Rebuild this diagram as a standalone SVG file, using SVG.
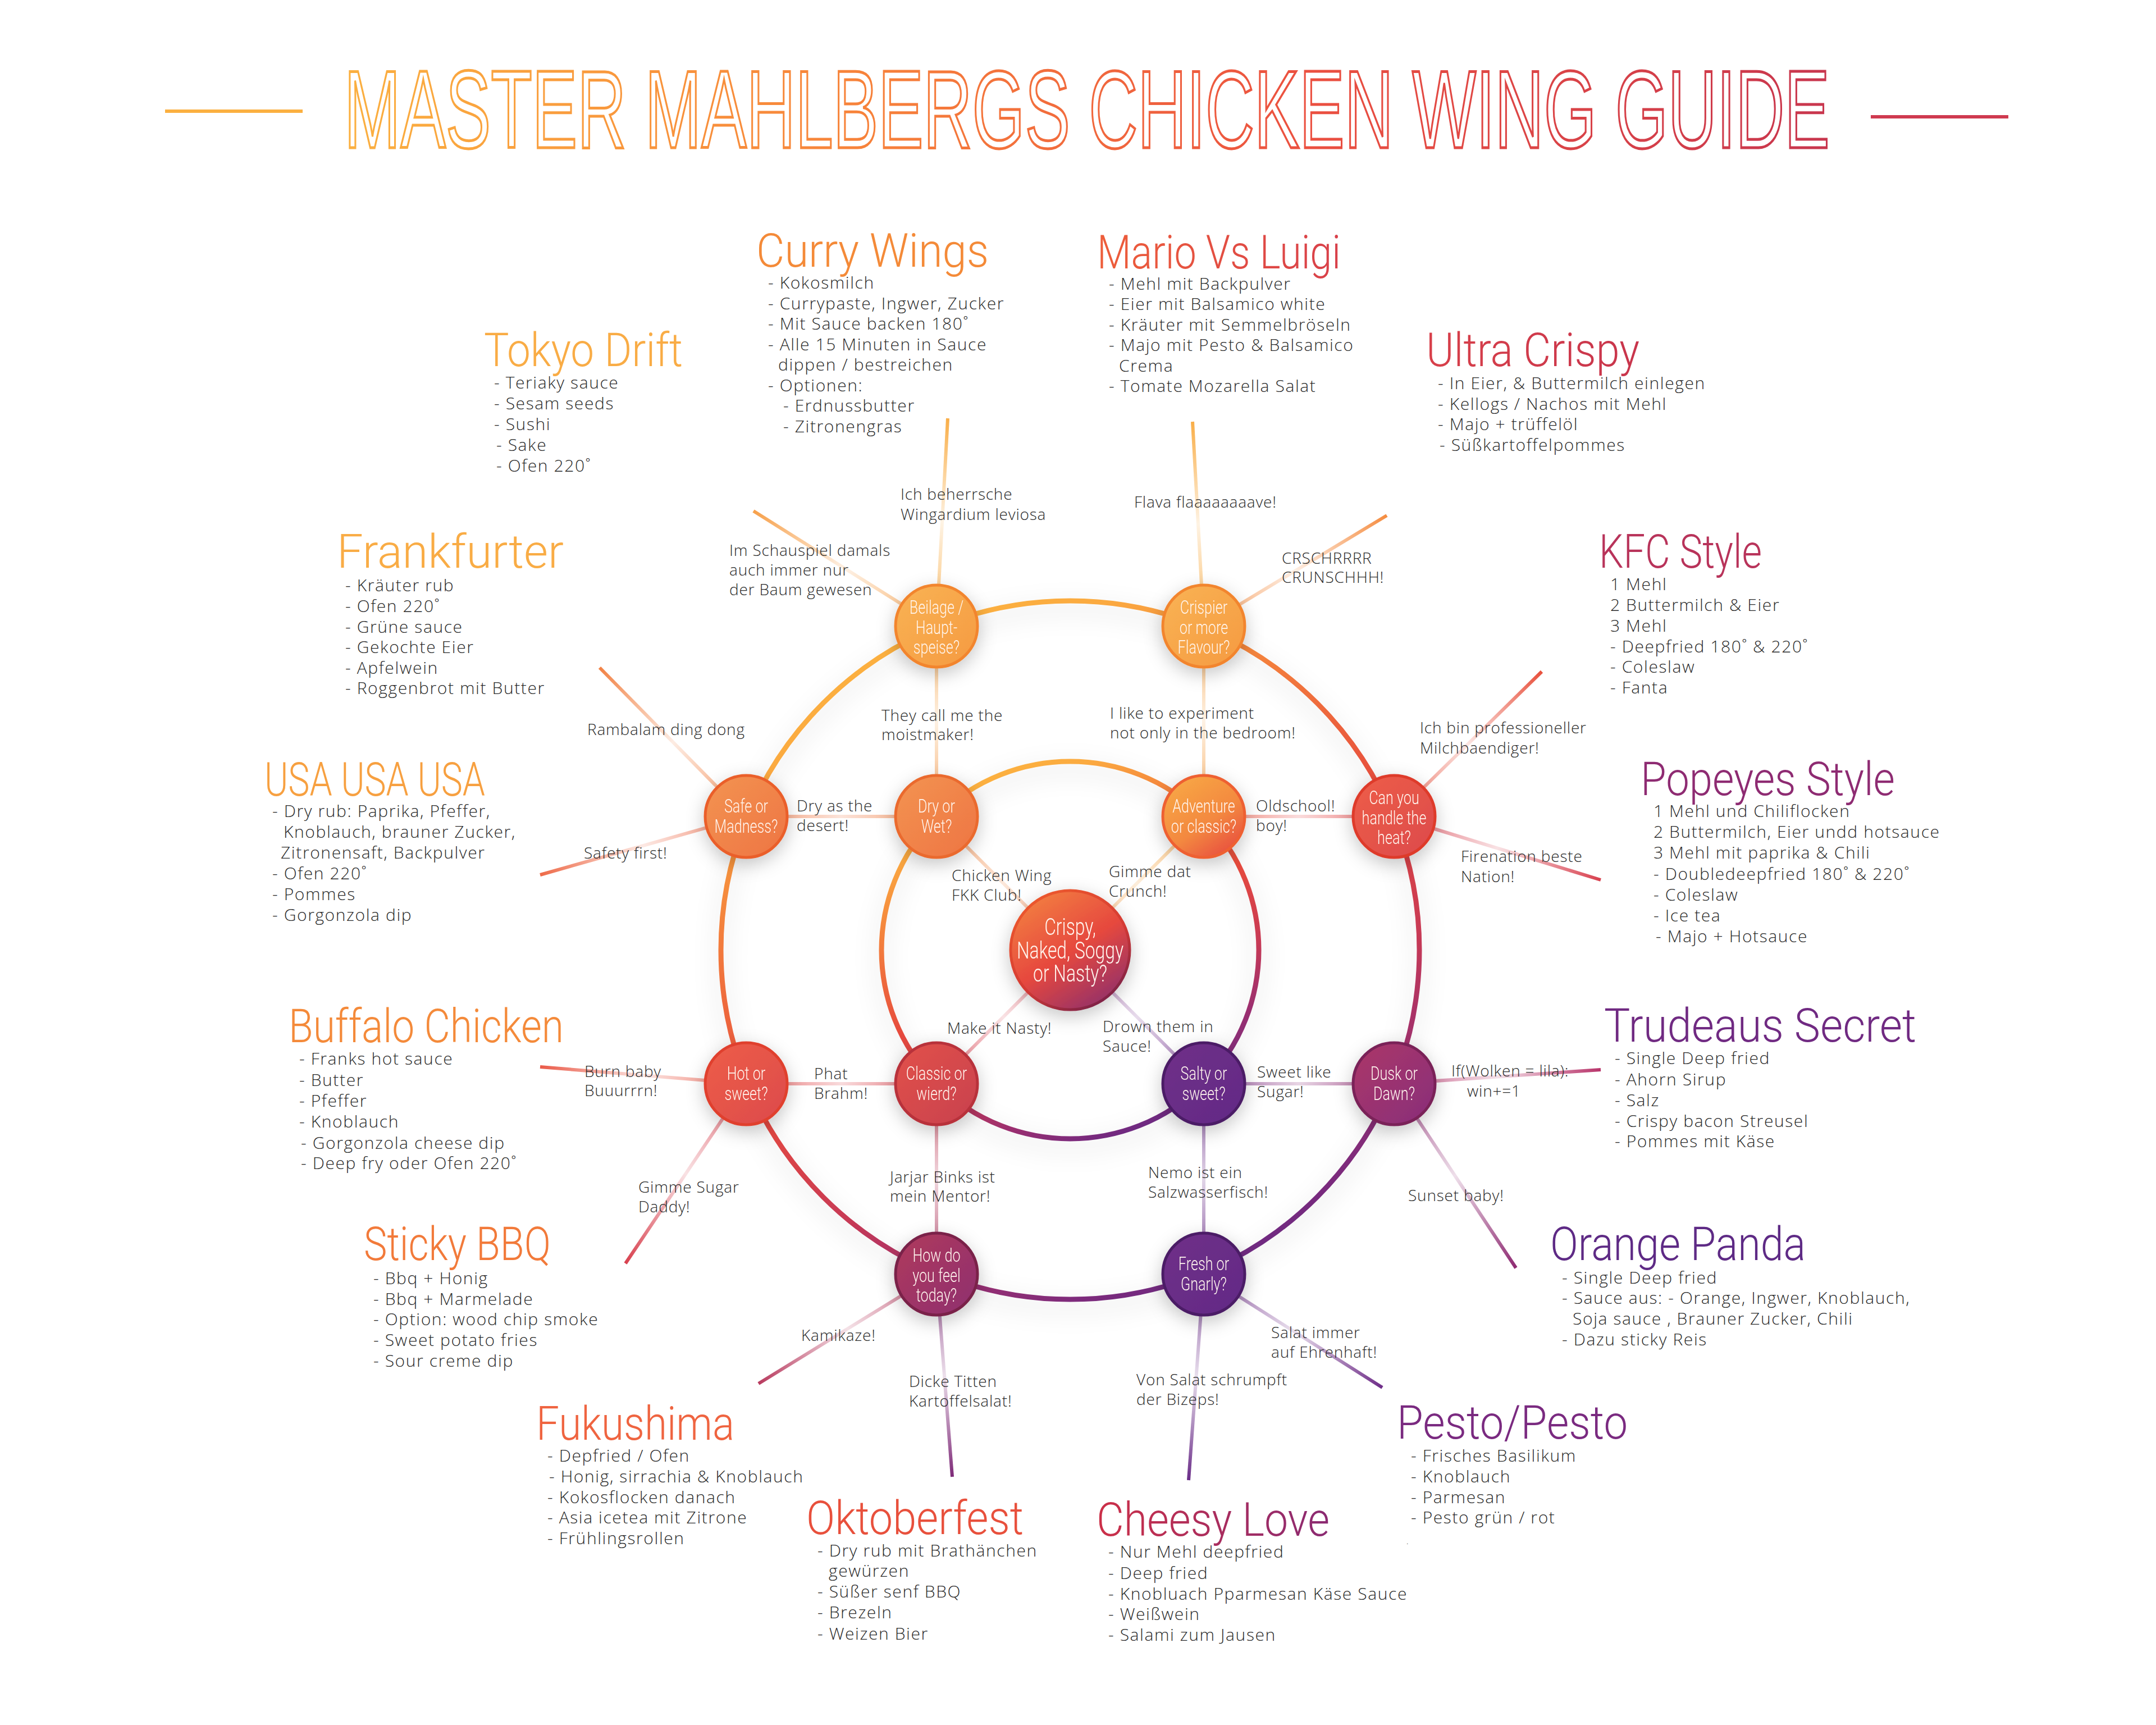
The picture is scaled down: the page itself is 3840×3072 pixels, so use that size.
<svg xmlns="http://www.w3.org/2000/svg" width="3840" height="3072" viewBox="0 0 3840 3072">
<style>
.nl{font-family:Roboto,"Liberation Sans",sans-serif;font-weight:300;font-size:34px;fill:#fff5ee;text-anchor:middle}
.tt{font-family:Roboto,"Liberation Sans",sans-serif;font-weight:300;font-size:84px}
.li{font-family:"Open Sans",Lato,"Liberation Sans",sans-serif;font-weight:300;font-size:30px;fill:#2b2b2b;letter-spacing:1.6px}
.lb{font-family:"Open Sans",Lato,"Liberation Sans",sans-serif;font-weight:300;font-size:28px;fill:#2b2b2b;letter-spacing:0.8px}
.con line{stroke-width:6;stroke-linecap:butt;fill:none}
.ring{fill:none;stroke-width:9}
.node circle{stroke-width:5}
</style>
<defs>
<filter id="sh" x="-40%" y="-40%" width="180%" height="180%"><feDropShadow dx="0" dy="10" stdDeviation="16" flood-color="#000" flood-opacity="0.22"/></filter>
<filter id="shr" x="-20%" y="-20%" width="140%" height="140%"><feDropShadow dx="0" dy="14" stdDeviation="22" flood-color="#000" flood-opacity="0.16"/></filter>
<linearGradient id="gTitle" x1="0" y1="0" x2="1" y2="0"><stop offset="0" stop-color="#FBB040"/><stop offset="0.35" stop-color="#F7823A"/><stop offset="0.65" stop-color="#EB5040"/><stop offset="1" stop-color="#C8364E"/></linearGradient>
<linearGradient id="gRing" x1="0.25" y1="0" x2="0.75" y2="1"><stop offset="0" stop-color="#FCB441"/><stop offset="0.12" stop-color="#FBAA40"/><stop offset="0.3" stop-color="#F27A3C"/><stop offset="0.5" stop-color="#E64A3E"/><stop offset="0.68" stop-color="#C83A55"/><stop offset="0.82" stop-color="#9A2E70"/><stop offset="1" stop-color="#5E2A88"/></linearGradient>
<linearGradient id="gY" x1="0" y1="0" x2="1" y2="1"><stop offset="0" stop-color="#F9B355"/><stop offset="1" stop-color="#F59A40"/></linearGradient>
<linearGradient id="gO" x1="0" y1="0" x2="1" y2="1"><stop offset="0" stop-color="#F39452"/><stop offset="1" stop-color="#EE7442"/></linearGradient>
<linearGradient id="gAdv" x1="0.2" y1="0" x2="0.9" y2="1"><stop offset="0" stop-color="#F8A845"/><stop offset="0.55" stop-color="#F38840"/><stop offset="1" stop-color="#E6453E"/></linearGradient>
<linearGradient id="gR" x1="0" y1="0" x2="1" y2="1"><stop offset="0" stop-color="#EE5E48"/><stop offset="1" stop-color="#DC4A4C"/></linearGradient>
<linearGradient id="gCl" x1="0" y1="0" x2="1" y2="1"><stop offset="0" stop-color="#E2524A"/><stop offset="1" stop-color="#C8404F"/></linearGradient>
<linearGradient id="gCtr" x1="0.2" y1="0" x2="0.85" y2="1"><stop offset="0" stop-color="#F38042"/><stop offset="0.5" stop-color="#E6483E"/><stop offset="1" stop-color="#8A2E6E"/></linearGradient>
<linearGradient id="gCtrS" x1="0.2" y1="0" x2="0.85" y2="1"><stop offset="0" stop-color="#EE5A2C"/><stop offset="0.55" stop-color="#D43A34"/><stop offset="1" stop-color="#6E1E4A"/></linearGradient>
<linearGradient id="gP" x1="0" y1="0" x2="1" y2="1"><stop offset="0" stop-color="#703088"/><stop offset="1" stop-color="#622A86"/></linearGradient>
<linearGradient id="gDusk" x1="0" y1="0" x2="1" y2="1"><stop offset="0" stop-color="#AC3868"/><stop offset="1" stop-color="#882D7A"/></linearGradient>
<linearGradient id="gHow" x1="0" y1="0" x2="1" y2="1"><stop offset="0" stop-color="#B03A5C"/><stop offset="1" stop-color="#8E2F70"/></linearGradient>
<linearGradient id="gMario" x1="0" y1="0" x2="1" y2="0"><stop offset="0" stop-color="#EE5E3A"/><stop offset="1" stop-color="#D8404A"/></linearGradient>
<linearGradient id="gUltra" x1="0" y1="0" x2="1" y2="0"><stop offset="0" stop-color="#D8404A"/><stop offset="1" stop-color="#C8354C"/></linearGradient>
<linearGradient id="gCheesy" x1="0" y1="0" x2="1" y2="0"><stop offset="0" stop-color="#CC3048"/><stop offset="1" stop-color="#8A2A72"/></linearGradient>
<linearGradient id="s1" gradientUnits="userSpaceOnUse" x1="1668" y1="1115" x2="1688" y2="745"><stop offset="0" stop-color="#F9AE48" stop-opacity="0.8"/><stop offset="0.5" stop-color="#F9AE48" stop-opacity="0.15"/><stop offset="1" stop-color="#F9AE48"/></linearGradient>
<linearGradient id="s2" gradientUnits="userSpaceOnUse" x1="1668" y1="1115" x2="1342" y2="910"><stop offset="0" stop-color="#F7A04A" stop-opacity="0.8"/><stop offset="0.5" stop-color="#F7A04A" stop-opacity="0.15"/><stop offset="1" stop-color="#F7A04A"/></linearGradient>
<linearGradient id="s3" gradientUnits="userSpaceOnUse" x1="2144" y1="1115" x2="2124" y2="751"><stop offset="0" stop-color="#F9AE48" stop-opacity="0.8"/><stop offset="0.5" stop-color="#F9AE48" stop-opacity="0.15"/><stop offset="1" stop-color="#F9AE48"/></linearGradient>
<linearGradient id="s4" gradientUnits="userSpaceOnUse" x1="2144" y1="1115" x2="2470" y2="918"><stop offset="0" stop-color="#F58C40" stop-opacity="0.8"/><stop offset="0.5" stop-color="#F58C40" stop-opacity="0.15"/><stop offset="1" stop-color="#F58C40"/></linearGradient>
<linearGradient id="s5" gradientUnits="userSpaceOnUse" x1="1329" y1="1454" x2="1068" y2="1189"><stop offset="0" stop-color="#F28245" stop-opacity="0.8"/><stop offset="0.5" stop-color="#F28245" stop-opacity="0.15"/><stop offset="1" stop-color="#F28245"/></linearGradient>
<linearGradient id="s6" gradientUnits="userSpaceOnUse" x1="1329" y1="1454" x2="962" y2="1558"><stop offset="0" stop-color="#EE6A48" stop-opacity="0.8"/><stop offset="0.5" stop-color="#EE6A48" stop-opacity="0.15"/><stop offset="1" stop-color="#EE6A48"/></linearGradient>
<linearGradient id="s7" gradientUnits="userSpaceOnUse" x1="2483" y1="1454" x2="2746" y2="1196"><stop offset="0" stop-color="#E8503C" stop-opacity="0.8"/><stop offset="0.5" stop-color="#E8503C" stop-opacity="0.15"/><stop offset="1" stop-color="#E8503C"/></linearGradient>
<linearGradient id="s8" gradientUnits="userSpaceOnUse" x1="2483" y1="1454" x2="2851" y2="1567"><stop offset="0" stop-color="#D8404E" stop-opacity="0.8"/><stop offset="0.5" stop-color="#D8404E" stop-opacity="0.15"/><stop offset="1" stop-color="#D8404E"/></linearGradient>
<linearGradient id="s9" gradientUnits="userSpaceOnUse" x1="1329" y1="1930" x2="962" y2="1900"><stop offset="0" stop-color="#EA5A48" stop-opacity="0.8"/><stop offset="0.5" stop-color="#EA5A48" stop-opacity="0.15"/><stop offset="1" stop-color="#EA5A48"/></linearGradient>
<linearGradient id="s10" gradientUnits="userSpaceOnUse" x1="1329" y1="1930" x2="1114" y2="2250"><stop offset="0" stop-color="#D8404E" stop-opacity="0.8"/><stop offset="0.5" stop-color="#D8404E" stop-opacity="0.15"/><stop offset="1" stop-color="#D8404E"/></linearGradient>
<linearGradient id="s11" gradientUnits="userSpaceOnUse" x1="2483" y1="1930" x2="2851" y2="1905"><stop offset="0" stop-color="#B8346A" stop-opacity="0.8"/><stop offset="0.5" stop-color="#B8346A" stop-opacity="0.15"/><stop offset="1" stop-color="#B8346A"/></linearGradient>
<linearGradient id="s12" gradientUnits="userSpaceOnUse" x1="2483" y1="1930" x2="2700" y2="2258"><stop offset="0" stop-color="#8E2A72" stop-opacity="0.8"/><stop offset="0.5" stop-color="#8E2A72" stop-opacity="0.15"/><stop offset="1" stop-color="#8E2A72"/></linearGradient>
<linearGradient id="s13" gradientUnits="userSpaceOnUse" x1="1668" y1="2269" x2="1351" y2="2464"><stop offset="0" stop-color="#B83A5E" stop-opacity="0.8"/><stop offset="0.5" stop-color="#B83A5E" stop-opacity="0.15"/><stop offset="1" stop-color="#B83A5E"/></linearGradient>
<linearGradient id="s14" gradientUnits="userSpaceOnUse" x1="1668" y1="2269" x2="1696" y2="2630"><stop offset="0" stop-color="#7E2A78" stop-opacity="0.8"/><stop offset="0.5" stop-color="#7E2A78" stop-opacity="0.15"/><stop offset="1" stop-color="#7E2A78"/></linearGradient>
<linearGradient id="s15" gradientUnits="userSpaceOnUse" x1="2144" y1="2269" x2="2462" y2="2471"><stop offset="0" stop-color="#6E2D88" stop-opacity="0.8"/><stop offset="0.5" stop-color="#6E2D88" stop-opacity="0.15"/><stop offset="1" stop-color="#6E2D88"/></linearGradient>
<linearGradient id="s16" gradientUnits="userSpaceOnUse" x1="2144" y1="2269" x2="2117" y2="2636"><stop offset="0" stop-color="#6A2D88" stop-opacity="0.8"/><stop offset="0.5" stop-color="#6A2D88" stop-opacity="0.15"/><stop offset="1" stop-color="#6A2D88"/></linearGradient>
<linearGradient id="c1" gradientUnits="userSpaceOnUse" x1="1668" y1="1115" x2="1668" y2="1454"><stop offset="0" stop-color="#F7A448" stop-opacity="0.8"/><stop offset="0.5" stop-color="#F7A448" stop-opacity="0.15"/><stop offset="1" stop-color="#F08A45" stop-opacity="0.8"/></linearGradient>
<linearGradient id="c2" gradientUnits="userSpaceOnUse" x1="2144" y1="1115" x2="2144" y2="1454"><stop offset="0" stop-color="#F7A448" stop-opacity="0.8"/><stop offset="0.5" stop-color="#F7A448" stop-opacity="0.15"/><stop offset="1" stop-color="#F59A40" stop-opacity="0.8"/></linearGradient>
<linearGradient id="c3" gradientUnits="userSpaceOnUse" x1="1329" y1="1454" x2="1668" y2="1454"><stop offset="0" stop-color="#F07A48" stop-opacity="0.8"/><stop offset="0.5" stop-color="#F07A48" stop-opacity="0.2"/><stop offset="1" stop-color="#F08A48" stop-opacity="0.8"/></linearGradient>
<linearGradient id="c4" gradientUnits="userSpaceOnUse" x1="2144" y1="1454" x2="2483" y2="1454"><stop offset="0" stop-color="#EE6A48" stop-opacity="0.8"/><stop offset="0.5" stop-color="#E85050" stop-opacity="0.2"/><stop offset="1" stop-color="#E24848" stop-opacity="0.8"/></linearGradient>
<linearGradient id="c5" gradientUnits="userSpaceOnUse" x1="1329" y1="1930" x2="1668" y2="1930"><stop offset="0" stop-color="#E64E48" stop-opacity="0.8"/><stop offset="0.5" stop-color="#E04A50" stop-opacity="0.2"/><stop offset="1" stop-color="#D0404E" stop-opacity="0.8"/></linearGradient>
<linearGradient id="c6" gradientUnits="userSpaceOnUse" x1="2144" y1="1930" x2="2483" y2="1930"><stop offset="0" stop-color="#6E2D88" stop-opacity="0.8"/><stop offset="0.5" stop-color="#8A2D7A" stop-opacity="0.2"/><stop offset="1" stop-color="#9A3070" stop-opacity="0.8"/></linearGradient>
<linearGradient id="c7" gradientUnits="userSpaceOnUse" x1="1668" y1="1930" x2="1668" y2="2269"><stop offset="0" stop-color="#C8404E" stop-opacity="0.8"/><stop offset="0.5" stop-color="#B8385A" stop-opacity="0.2"/><stop offset="1" stop-color="#A0355F" stop-opacity="0.8"/></linearGradient>
<linearGradient id="c8" gradientUnits="userSpaceOnUse" x1="2144" y1="1930" x2="2144" y2="2269"><stop offset="0" stop-color="#6A2D88" stop-opacity="0.8"/><stop offset="0.5" stop-color="#6A2D88" stop-opacity="0.2"/><stop offset="1" stop-color="#6A2D88" stop-opacity="0.8"/></linearGradient>
<linearGradient id="d1" gradientUnits="userSpaceOnUse" x1="1906" y1="1692" x2="1668" y2="1454"><stop offset="0" stop-color="#E87040" stop-opacity="0.8"/><stop offset="0.5" stop-color="#F08A48" stop-opacity="0.2"/><stop offset="1" stop-color="#F08A48" stop-opacity="0.8"/></linearGradient>
<linearGradient id="d2" gradientUnits="userSpaceOnUse" x1="1906" y1="1692" x2="2144" y2="1454"><stop offset="0" stop-color="#F08A48" stop-opacity="0.8"/><stop offset="0.5" stop-color="#F7A848" stop-opacity="0.2"/><stop offset="1" stop-color="#F7A848" stop-opacity="0.8"/></linearGradient>
<linearGradient id="d3" gradientUnits="userSpaceOnUse" x1="1906" y1="1692" x2="1668" y2="1930"><stop offset="0" stop-color="#D8404E" stop-opacity="0.8"/><stop offset="0.5" stop-color="#D8404E" stop-opacity="0.15"/><stop offset="1" stop-color="#D8404E" stop-opacity="0.8"/></linearGradient>
<linearGradient id="d4" gradientUnits="userSpaceOnUse" x1="1906" y1="1692" x2="2144" y2="1930"><stop offset="0" stop-color="#9A3A88" stop-opacity="0.8"/><stop offset="0.5" stop-color="#8A50A0" stop-opacity="0.2"/><stop offset="1" stop-color="#6A2D88" stop-opacity="0.8"/></linearGradient>
</defs>
<rect width="3840" height="3072" fill="#ffffff"/>

<g id="header">
<line x1="294" y1="198" x2="539" y2="198" stroke="#FBB040" stroke-width="6"/>
<line x1="3332" y1="208" x2="3577" y2="208" stroke="#CF3A50" stroke-width="6"/>
<text transform="translate(613,263) scale(0.612,1)" x="0" y="0" font-family="'Liberation Sans',Arial,sans-serif" font-size="197" fill="none" stroke="url(#gTitle)" stroke-width="5">MASTER MAHLBERGS CHICKEN WING GUIDE</text>
</g>

<g id="rings" filter="url(#shr)">
<circle class="ring" cx="1906" cy="1692" r="622" stroke="url(#gRing)"/>
<circle class="ring" cx="1906" cy="1692" r="336" stroke="url(#gRing)"/>
</g>

<g id="connectors" class="con">
<line x1="1668" y1="1115" x2="1688" y2="745" stroke="url(#s1)"/>
<line x1="1668" y1="1115" x2="1342" y2="910" stroke="url(#s2)"/>
<line x1="2144" y1="1115" x2="2124" y2="751" stroke="url(#s3)"/>
<line x1="2144" y1="1115" x2="2470" y2="918" stroke="url(#s4)"/>
<line x1="1329" y1="1454" x2="1068" y2="1189" stroke="url(#s5)"/>
<line x1="1329" y1="1454" x2="962" y2="1558" stroke="url(#s6)"/>
<line x1="2483" y1="1454" x2="2746" y2="1196" stroke="url(#s7)"/>
<line x1="2483" y1="1454" x2="2851" y2="1567" stroke="url(#s8)"/>
<line x1="1329" y1="1930" x2="962" y2="1900" stroke="url(#s9)"/>
<line x1="1329" y1="1930" x2="1114" y2="2250" stroke="url(#s10)"/>
<line x1="2483" y1="1930" x2="2851" y2="1905" stroke="url(#s11)"/>
<line x1="2483" y1="1930" x2="2700" y2="2258" stroke="url(#s12)"/>
<line x1="1668" y1="2269" x2="1351" y2="2464" stroke="url(#s13)"/>
<line x1="1668" y1="2269" x2="1696" y2="2630" stroke="url(#s14)"/>
<line x1="2144" y1="2269" x2="2462" y2="2471" stroke="url(#s15)"/>
<line x1="2144" y1="2269" x2="2117" y2="2636" stroke="url(#s16)"/>
<line x1="1668" y1="1115" x2="1668" y2="1454" stroke="url(#c1)"/>
<line x1="2144" y1="1115" x2="2144" y2="1454" stroke="url(#c2)"/>
<line x1="1329" y1="1454" x2="1668" y2="1454" stroke="url(#c3)"/>
<line x1="2144" y1="1454" x2="2483" y2="1454" stroke="url(#c4)"/>
<line x1="1329" y1="1930" x2="1668" y2="1930" stroke="url(#c5)"/>
<line x1="2144" y1="1930" x2="2483" y2="1930" stroke="url(#c6)"/>
<line x1="1668" y1="1930" x2="1668" y2="2269" stroke="url(#c7)"/>
<line x1="2144" y1="1930" x2="2144" y2="2269" stroke="url(#c8)"/>
<line x1="1906" y1="1692" x2="1668" y2="1454" stroke="url(#d1)"/>
<line x1="1906" y1="1692" x2="2144" y2="1454" stroke="url(#d2)"/>
<line x1="1906" y1="1692" x2="1668" y2="1930" stroke="url(#d3)"/>
<line x1="1906" y1="1692" x2="2144" y2="1930" stroke="url(#d4)"/>
</g>

<g id="n-center" class="node" filter="url(#sh)">
<circle cx="1906" cy="1692" r="106" fill="url(#gCtr)" stroke="url(#gCtrS)" stroke-width="6"/>
<text transform="translate(1906,1692) scale(0.74,1)" class="nl" style="font-size:43px"><tspan x="0" y="-27">Crispy,</tspan><tspan x="0" y="15">Naked, Soggy</tspan><tspan x="0" y="56">or Nasty?</tspan></text>
</g>
<g id="n-beilage" class="node" filter="url(#sh)">
<circle cx="1668" cy="1115" r="73" fill="url(#gY)" stroke="#F2852E"/>
<text transform="translate(1668,1115) scale(0.74,1)" class="nl"><tspan x="0" y="-22">Beilage /</tspan><tspan x="0" y="14">Haupt-</tspan><tspan x="0" y="49">speise?</tspan></text>
</g>
<g id="n-crispier" class="node" filter="url(#sh)">
<circle cx="2144" cy="1115" r="73" fill="url(#gY)" stroke="#F2852E"/>
<text transform="translate(2144,1115) scale(0.74,1)" class="nl"><tspan x="0" y="-22">Crispier</tspan><tspan x="0" y="14">or more</tspan><tspan x="0" y="49">Flavour?</tspan></text>
</g>
<g id="n-safe" class="node" filter="url(#sh)">
<circle cx="1329" cy="1454" r="73" fill="url(#gO)" stroke="#EA5E2A"/>
<text transform="translate(1329,1454) scale(0.74,1)" class="nl"><tspan x="0" y="-7">Safe or</tspan><tspan x="0" y="29">Madness?</tspan></text>
</g>
<g id="n-dry" class="node" filter="url(#sh)">
<circle cx="1668" cy="1454" r="73" fill="url(#gO)" stroke="#EA6A2E"/>
<text transform="translate(1668,1454) scale(0.74,1)" class="nl"><tspan x="0" y="-7">Dry or</tspan><tspan x="0" y="29">Wet?</tspan></text>
</g>
<g id="n-adventure" class="node" filter="url(#sh)">
<circle cx="2144" cy="1454" r="73" fill="url(#gAdv)" stroke="#EE6030"/>
<text transform="translate(2144,1454) scale(0.74,1)" class="nl"><tspan x="0" y="-7">Adventure</tspan><tspan x="0" y="29">or classic?</tspan></text>
</g>
<g id="n-heat" class="node" filter="url(#sh)">
<circle cx="2483" cy="1454" r="73" fill="url(#gR)" stroke="#DE3A2C"/>
<text transform="translate(2483,1454) scale(0.74,1)" class="nl"><tspan x="0" y="-22">Can you</tspan><tspan x="0" y="14">handle the</tspan><tspan x="0" y="49">heat?</tspan></text>
</g>
<g id="n-hot" class="node" filter="url(#sh)">
<circle cx="1329" cy="1930" r="73" fill="url(#gR)" stroke="#E0402E"/>
<text transform="translate(1329,1930) scale(0.74,1)" class="nl"><tspan x="0" y="-7">Hot or</tspan><tspan x="0" y="29">sweet?</tspan></text>
</g>
<g id="n-classic" class="node" filter="url(#sh)">
<circle cx="1668" cy="1930" r="73" fill="url(#gCl)" stroke="#B8303A"/>
<text transform="translate(1668,1930) scale(0.74,1)" class="nl"><tspan x="0" y="-7">Classic or</tspan><tspan x="0" y="29">wierd?</tspan></text>
</g>
<g id="n-salty" class="node" filter="url(#sh)">
<circle cx="2144" cy="1930" r="73" fill="url(#gP)" stroke="#4C1C66"/>
<text transform="translate(2144,1930) scale(0.74,1)" class="nl"><tspan x="0" y="-7">Salty or</tspan><tspan x="0" y="29">sweet?</tspan></text>
</g>
<g id="n-dusk" class="node" filter="url(#sh)">
<circle cx="2483" cy="1930" r="73" fill="url(#gDusk)" stroke="#7A2258"/>
<text transform="translate(2483,1930) scale(0.74,1)" class="nl"><tspan x="0" y="-7">Dusk or</tspan><tspan x="0" y="29">Dawn?</tspan></text>
</g>
<g id="n-feel" class="node" filter="url(#sh)">
<circle cx="1668" cy="2269" r="73" fill="url(#gHow)" stroke="#7A2048"/>
<text transform="translate(1668,2269) scale(0.74,1)" class="nl"><tspan x="0" y="-22">How do</tspan><tspan x="0" y="14">you feel</tspan><tspan x="0" y="49">today?</tspan></text>
</g>
<g id="n-fresh" class="node" filter="url(#sh)">
<circle cx="2144" cy="2269" r="73" fill="url(#gP)" stroke="#4C1C66"/>
<text transform="translate(2144,2269) scale(0.74,1)" class="nl"><tspan x="0" y="-7">Fresh or</tspan><tspan x="0" y="29">Gnarly?</tspan></text>
</g>

<g id="labels" class="lb">
<text x="1604" y="890">Ich beherrsche<tspan x="1604" y="926">Wingardium leviosa</tspan></text>
<text x="2020" y="904">Flava flaaaaaaaave!</text>
<text x="1299" y="990">Im Schauspiel damals<tspan x="1299" y="1025">auch immer nur</tspan><tspan x="1299" y="1060">der Baum gewesen</tspan></text>
<text x="2283" y="1004">CRSCHRRRR<tspan x="2283" y="1038">CRUNSCHHH!</tspan></text>
<text x="1570" y="1284">They call me the<tspan x="1570" y="1318">moistmaker!</tspan></text>
<text x="1977" y="1280">I like to experiment<tspan x="1977" y="1315">not only in the bedroom!</tspan></text>
<text x="1046" y="1309">Rambalam ding dong</text>
<text x="2529" y="1306">Ich bin professioneller<tspan x="2529" y="1342">Milchbaendiger!</tspan></text>
<text x="1419" y="1445">Dry as the<tspan x="1419" y="1480">desert!</tspan></text>
<text x="2237" y="1445">Oldschool!<tspan x="2237" y="1480">boy!</tspan></text>
<text x="1040" y="1529">Safety first!</text>
<text x="2602" y="1535">Firenation beste<tspan x="2602" y="1571">Nation!</tspan></text>
<text x="1695" y="1569">Chicken Wing<tspan x="1695" y="1604">FKK Club!</tspan></text>
<text x="1975" y="1562">Gimme dat<tspan x="1975" y="1597">Crunch!</tspan></text>
<text x="1687" y="1841">Make it Nasty!</text>
<text x="1964" y="1838">Drown them in<tspan x="1964" y="1873">Sauce!</tspan></text>
<text x="1041" y="1918">Burn baby<tspan x="1041" y="1952">Buuurrrn!</tspan></text>
<text x="1450" y="1922">Phat<tspan x="1450" y="1957">Brahm!</tspan></text>
<text x="2239" y="1919">Sweet like<tspan x="2239" y="1954">Sugar!</tspan></text>
<text x="2585" y="1917">If(Wolken = lila):<tspan x="2613" y="1953">win+=1</tspan></text>
<text x="1585" y="2106">Jarjar Binks ist<tspan x="1585" y="2140">mein Mentor!</tspan></text>
<text x="2045" y="2098">Nemo ist ein<tspan x="2045" y="2133">Salzwasserfisch!</tspan></text>
<text x="1137" y="2124">Gimme Sugar<tspan x="1137" y="2159">Daddy!</tspan></text>
<text x="2508" y="2139">Sunset baby!</text>
<text x="1427" y="2388">Kamikaze!</text>
<text x="2264" y="2383">Salat immer<tspan x="2264" y="2418">auf Ehrenhaft!</tspan></text>
<text x="1619" y="2470">Dicke Titten<tspan x="1619" y="2505">Kartoffelsalat!</tspan></text>
<text x="2024" y="2467">Von Salat schrumpft<tspan x="2024" y="2502">der Bizeps!</tspan></text>
</g>

<g id="r-tokyo">
<text class="tt" x="862" y="652" textLength="354" lengthAdjust="spacingAndGlyphs" fill="#F9AC45">Tokyo Drift</text>
<text class="li"><tspan x="880" y="692">- Teriaky sauce</tspan><tspan x="880" y="729">- Sesam seeds</tspan><tspan x="880" y="766">- Sushi</tspan><tspan x="884" y="803">- Sake</tspan><tspan x="884" y="840">- Ofen 220˚</tspan></text>
</g>
<g id="r-curry">
<text class="tt" x="1347" y="475" textLength="414" lengthAdjust="spacingAndGlyphs" fill="#F48A38">Curry Wings</text>
<text class="li"><tspan x="1368" y="514">- Kokosmilch</tspan><tspan x="1368" y="551">- Currypaste, Ingwer, Zucker</tspan><tspan x="1368" y="587">- Mit Sauce backen 180˚</tspan><tspan x="1368" y="624">- Alle 15 Minuten in Sauce</tspan><tspan x="1386" y="660">dippen / bestreichen</tspan><tspan x="1368" y="697">- Optionen:</tspan><tspan x="1395" y="733">- Erdnussbutter</tspan><tspan x="1395" y="770">- Zitronengras</tspan></text>
</g>
<g id="r-mario">
<text class="tt" x="1954" y="478" textLength="434" lengthAdjust="spacingAndGlyphs" fill="url(#gMario)">Mario Vs Luigi</text>
<text class="li"><tspan x="1975" y="516">- Mehl mit Backpulver</tspan><tspan x="1975" y="552">- Eier mit Balsamico white</tspan><tspan x="1975" y="589">- Kräuter mit Semmelbröseln</tspan><tspan x="1975" y="625">- Majo mit Pesto &amp; Balsamico</tspan><tspan x="1993" y="662">Crema</tspan><tspan x="1975" y="698">- Tomate Mozarella Salat</tspan></text>
</g>
<g id="r-ultra">
<text class="tt" x="2540" y="652" textLength="380" lengthAdjust="spacingAndGlyphs" fill="url(#gUltra)">Ultra Crispy</text>
<text class="li"><tspan x="2561" y="693">- In Eier, &amp; Buttermilch einlegen</tspan><tspan x="2561" y="730">- Kellogs / Nachos mit Mehl</tspan><tspan x="2561" y="766">- Majo + trüffelöl</tspan><tspan x="2564" y="803">- Süßkartoffelpommes</tspan></text>
</g>
<g id="r-frankfurter">
<text class="tt" x="600" y="1011" textLength="404" lengthAdjust="spacingAndGlyphs" fill="#F9AC45">Frankfurter</text>
<text class="li"><tspan x="615" y="1053">- Kräuter rub</tspan><tspan x="615" y="1090">- Ofen 220˚</tspan><tspan x="615" y="1127">- Grüne sauce</tspan><tspan x="615" y="1163">- Gekochte Eier</tspan><tspan x="615" y="1200">- Apfelwein</tspan><tspan x="615" y="1236">- Roggenbrot mit Butter</tspan></text>
</g>
<g id="r-kfc">
<text class="tt" x="2848" y="1011" textLength="290" lengthAdjust="spacingAndGlyphs" fill="#B8335A">KFC Style</text>
<text class="li"><tspan x="2868" y="1051">1 Mehl</tspan><tspan x="2868" y="1088">2 Buttermilch &amp; Eier</tspan><tspan x="2868" y="1125">3 Mehl</tspan><tspan x="2868" y="1162">- Deepfried 180˚ &amp; 220˚</tspan><tspan x="2868" y="1198">- Coleslaw</tspan><tspan x="2868" y="1235">- Fanta</tspan></text>
</g>
<g id="r-usa">
<text class="tt" x="471" y="1417" textLength="393" lengthAdjust="spacingAndGlyphs" fill="#F7A040">USA USA USA</text>
<text class="li"><tspan x="485" y="1455">- Dry rub: Paprika, Pfeffer,</tspan><tspan x="505" y="1492">Knoblauch, brauner Zucker,</tspan><tspan x="500" y="1529">Zitronensaft, Backpulver</tspan><tspan x="485" y="1566">- Ofen 220˚</tspan><tspan x="485" y="1603">- Pommes</tspan><tspan x="485" y="1640">- Gorgonzola dip</tspan></text>
</g>
<g id="r-popeyes">
<text class="tt" x="2922" y="1416" textLength="453" lengthAdjust="spacingAndGlyphs" fill="#8E2B72">Popeyes Style</text>
<text class="li"><tspan x="2945" y="1455">1  Mehl und Chiliflocken</tspan><tspan x="2945" y="1492">2 Buttermilch, Eier undd hotsauce</tspan><tspan x="2945" y="1529">3 Mehl mit paprika &amp; Chili</tspan><tspan x="2945" y="1567">- Doubledeepfried 180˚ &amp; 220˚</tspan><tspan x="2945" y="1604">- Coleslaw</tspan><tspan x="2945" y="1641">- Ice tea</tspan><tspan x="2949" y="1678">- Majo + Hotsauce</tspan></text>
</g>
<g id="r-buffalo">
<text class="tt" x="514" y="1856" textLength="490" lengthAdjust="spacingAndGlyphs" fill="#F48A3A">Buffalo Chicken</text>
<text class="li"><tspan x="533" y="1896">- Franks hot sauce</tspan><tspan x="533" y="1934">- Butter</tspan><tspan x="533" y="1971">- Pfeffer</tspan><tspan x="533" y="2008">- Knoblauch</tspan><tspan x="536" y="2046">- Gorgonzola cheese dip</tspan><tspan x="536" y="2082">- Deep fry oder Ofen 220˚</tspan></text>
</g>
<g id="r-trudeau">
<text class="tt" x="2857" y="1855" textLength="556" lengthAdjust="spacingAndGlyphs" fill="#702A82">Trudeaus Secret</text>
<text class="li"><tspan x="2876" y="1895">- Single Deep fried</tspan><tspan x="2876" y="1933">- Ahorn Sirup</tspan><tspan x="2876" y="1970">- Salz</tspan><tspan x="2876" y="2007">- Crispy bacon Streusel</tspan><tspan x="2876" y="2043">- Pommes mit Käse</tspan></text>
</g>
<g id="r-sticky">
<text class="tt" x="648" y="2244" textLength="333" lengthAdjust="spacingAndGlyphs" fill="#F27A3A">Sticky BBQ</text>
<text class="li"><tspan x="665" y="2287">- Bbq + Honig</tspan><tspan x="665" y="2324">- Bbq + Marmelade</tspan><tspan x="665" y="2360">- Option: wood chip smoke</tspan><tspan x="665" y="2397">- Sweet potato fries</tspan><tspan x="665" y="2434">- Sour creme dip</tspan></text>
</g>
<g id="r-panda">
<text class="tt" x="2761" y="2244" textLength="455" lengthAdjust="spacingAndGlyphs" fill="#5E2A85">Orange Panda</text>
<text class="li"><tspan x="2782" y="2286">- Single Deep fried</tspan><tspan x="2782" y="2322">- Sauce aus: - Orange, Ingwer, Knoblauch,</tspan><tspan x="2801" y="2359">Soja sauce , Brauner Zucker, Chili</tspan><tspan x="2782" y="2396">- Dazu sticky Reis</tspan></text>
</g>
<g id="r-fukushima">
<text class="tt" x="955" y="2564" textLength="353" lengthAdjust="spacingAndGlyphs" fill="#EF6440">Fukushima</text>
<text class="li"><tspan x="975" y="2603">- Depfried / Ofen</tspan><tspan x="978" y="2640">- Honig, sirrachia &amp; Knoblauch</tspan><tspan x="975" y="2677">- Kokosflocken danach</tspan><tspan x="975" y="2713">- Asia icetea mit Zitrone</tspan><tspan x="975" y="2750">- Frühlingsrollen</tspan></text>
</g>
<g id="r-pesto">
<text class="tt" x="2488" y="2562" textLength="411" lengthAdjust="spacingAndGlyphs" fill="#7A2A80">Pesto/Pesto</text>
<text class="li"><tspan x="2513" y="2603">- Frisches Basilikum</tspan><tspan x="2513" y="2640">- Knoblauch</tspan><tspan x="2513" y="2677">- Parmesan</tspan><tspan x="2513" y="2713">- Pesto grün / rot</tspan><tspan x="2505" y="2750" style="font-size:14px">.</tspan></text>
</g>
<g id="r-oktoberfest">
<text class="tt" x="1436" y="2732" textLength="387" lengthAdjust="spacingAndGlyphs" fill="#E8503C">Oktoberfest</text>
<text class="li"><tspan x="1456" y="2772">- Dry rub mit Brathänchen</tspan><tspan x="1476" y="2808">gewürzen</tspan><tspan x="1456" y="2845">- Süßer senf BBQ</tspan><tspan x="1456" y="2882">- Brezeln</tspan><tspan x="1456" y="2920">- Weizen Bier</tspan></text>
</g>
<g id="r-cheesy">
<text class="tt" x="1953" y="2735" textLength="415" lengthAdjust="spacingAndGlyphs" fill="url(#gCheesy)">Cheesy Love</text>
<text class="li"><tspan x="1974" y="2774">- Nur Mehl deepfried</tspan><tspan x="1974" y="2812">- Deep fried</tspan><tspan x="1974" y="2849">- Knobluach Pparmesan Käse Sauce</tspan><tspan x="1974" y="2885">- Weißwein</tspan><tspan x="1974" y="2922">- Salami zum Jausen</tspan></text>
</g>
</svg>
